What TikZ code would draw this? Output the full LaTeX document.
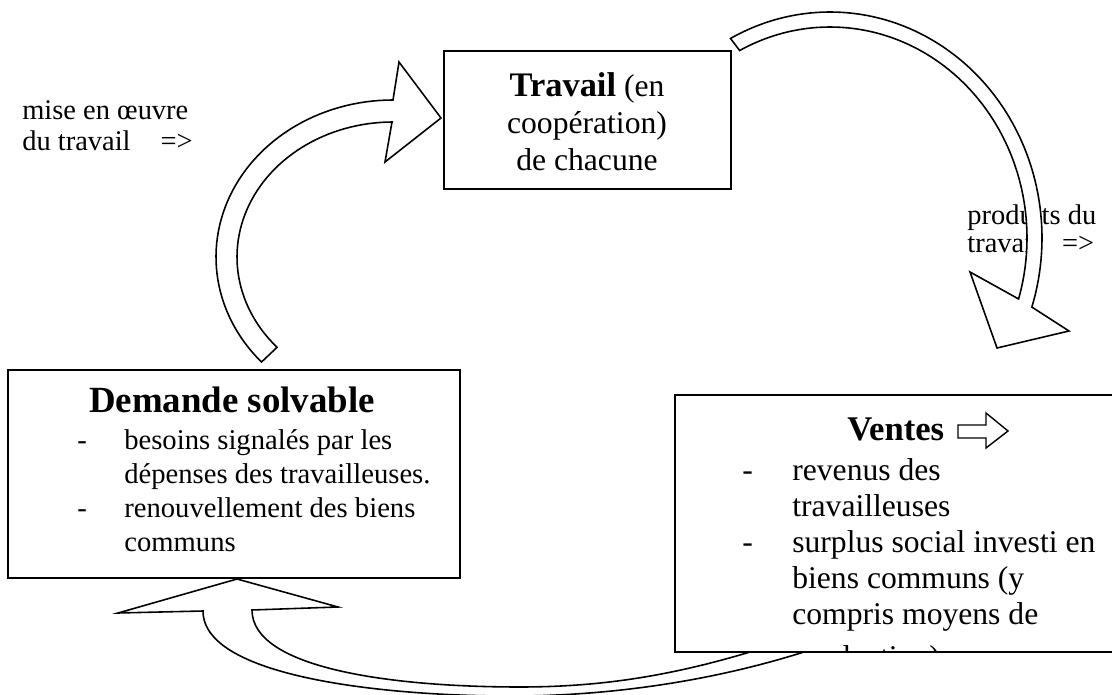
\documentclass[tikz,border=0pt]{standalone}
\usepackage{fontspec}
\setmainfont{Liberation Serif}
\usepackage{tikz}

\begin{document}
\begin{tikzpicture}[
    x=0.02cm, y=-0.02cm,
    box/.style={draw, fill=white, line width=1.1pt, inner sep=0pt},
    flow/.style={draw, fill=white, line width=0.9pt, line join=miter},
    txt/.style={inner sep=0pt, font=\fontsize{18}{20.8}\selectfont},
    note/.style={inner sep=0pt, anchor=base west, font=\fontsize{16.2}{17.6}\selectfont}
  ]
  \useasboundingbox (0,0) rectangle (1112,695);
  % Side labels
  \node[note] (mise) at (22,120) {\parbox[t]{6cm}{mise en œuvre\\du travail\hspace{17pt}=>}};
  \node[note, font=\fontsize{16.2}{15.9}\selectfont] (produits) at (967,225)
        {\parbox[t]{3cm}{produits du\\travail\hspace{12.5pt}=>}};
  % Curved arrows
  \filldraw[flow] plot[domain=138:270, samples=60, variable=\t] ({393+177*cos(\t)},{257+157*sin(\t)})
     -- (399,62) -- (441,118) -- (385,162) -- (392,122)
     -- plot[domain=270:138, samples=60, variable=\t] ({393+156*cos(\t)},{257+135*sin(\t)}) -- cycle;
  \filldraw[flow] plot[domain=242:377.8, samples=80, variable=\t] ({830+212*cos(\t)},{238+226*sin(\t)})
     -- (1069,331) -- (997,348) -- (970,272)
     -- plot[domain=376.8:242.7, samples=80, variable=\t] ({830+197*cos(\t)},{238+211*sin(\t)}) -- cycle;
  \filldraw[flow] (800,636) .. controls (700,670) and (620,687) .. (520,687)
     .. controls (390,687) and (252,668) .. (252,610)
     -- (338,607) -- (237,579) -- (118,613) -- (203,611)
     .. controls (203,680) and (400,697) .. (520,696)
     .. controls (640,695) and (760,672) .. (860,632) -- cycle;
  % Boxes
  \node[box, minimum width=5.74cm, minimum height=2.76cm] (travail) at (587.5,120) {};
  \node[box, minimum width=9.04cm, minimum height=4.16cm] (demande) at (234,474) {};
  \node[box, minimum width=9cm, minimum height=5.14cm] (ventes) at (900,523.5) {};
  % Box texts
  \node[txt, anchor=base] (travail-txt) at (587,97)
        {\parbox[t]{5cm}{\centering{\fontsize{19.6}{20.8}\selectfont\bfseries Travail} (en\\coopération)\\de chacune}};
  \node[txt, anchor=base, font=\fontsize{21}{24}\selectfont\bfseries] (demande-titre) at (232,413) {Demande solvable};
  \node[txt, anchor=base west, font=\fontsize{16.3}{19.35}\selectfont] (demande-txt) at (77,450)
        {\parbox[t]{8cm}{%
          \makebox[0.94cm][l]{-}besoins signalés par les\\
          \hspace*{0.94cm}dépenses des travailleuses.\\
          \makebox[0.94cm][l]{-}renouvellement des biens\\
          \hspace*{0.94cm}communs}};
  \node[txt, anchor=base west, font=\fontsize{19.7}{24}\selectfont\bfseries] (ventes-titre) at (847,441) {Ventes};
  \draw[line width=0.8pt, fill=white] (958,425) -- (986,425) -- (986,413) -- (1008,431)
        -- (986,448) -- (986,438) -- (958,438) -- cycle;
  \begin{scope}
    \clip (675,395) rectangle (1112,650);
    \node[txt, anchor=base west, font=\fontsize{18}{20.5}\selectfont] (ventes-txt) at (742,480)
          {\parbox[t]{8cm}{%
            \makebox[1cm][l]{-}revenus des\\
            \hspace*{1cm}travailleuses\\
            \makebox[1cm][l]{-}surplus social investi en\\
            \hspace*{1cm}biens communs (y\\
            \hspace*{1cm}compris moyens de\\[4pt]
            \hspace*{1cm}production)}};
  \end{scope}
\end{tikzpicture}
\end{document}
